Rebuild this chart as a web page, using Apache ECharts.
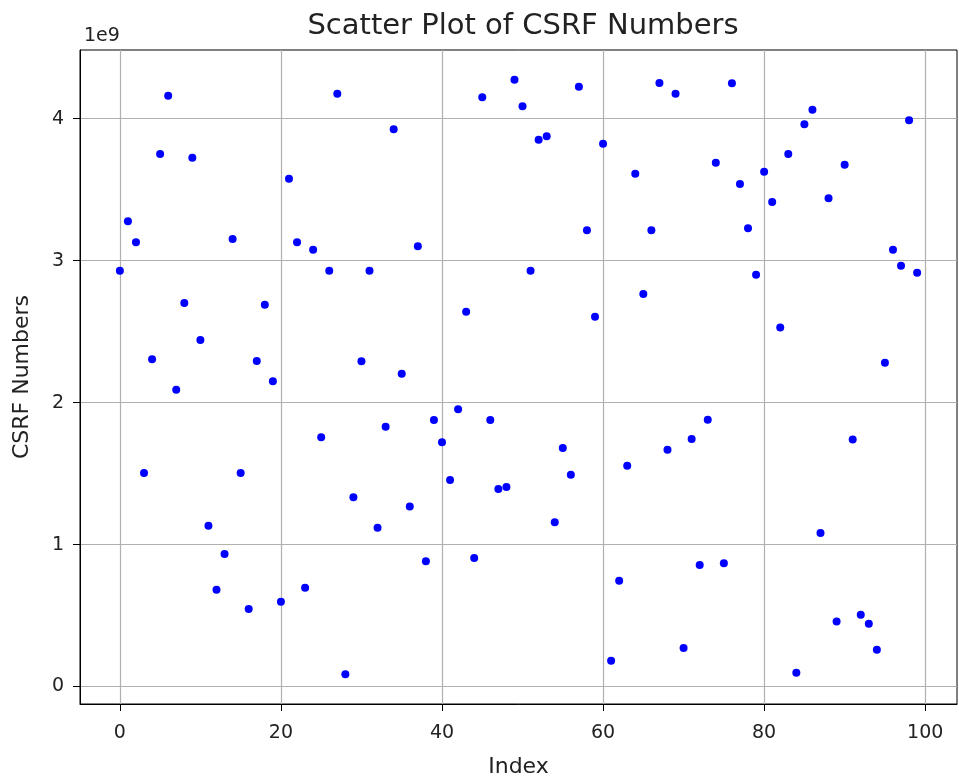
<!DOCTYPE html>
<html>
<head>
<meta charset="utf-8">
<script src="https://cdn.jsdelivr.net/npm/echarts@6/dist/echarts.min.js"></script>
<style>
html,body{margin:0;padding:0;background:#fff;}
#chart{width:959px;height:784px;}
</style>
</head>
<body>
<div id="chart"></div>
<script>
// CSRF numbers (in raw units)
const csrfValues = [
  2.929e9, 3.277e9, 3.129e9, 1.504e9, 2.305e9, 3.751e9, 4.162e9, 2.091e9, 2.702e9, 3.725e9,
  2.441e9, 1.133e9, 0.682e9, 0.933e9, 3.153e9, 1.504e9, 0.546e9, 2.293e9, 2.690e9, 2.150e9,
  0.598e9, 3.577e9, 3.129e9, 0.696e9, 3.077e9, 1.756e9, 2.929e9, 4.176e9, 0.086e9, 1.333e9,
  2.291e9, 2.929e9, 1.119e9, 1.830e9, 3.925e9, 2.203e9, 1.269e9, 3.101e9, 0.882e9, 1.877e9,
  1.720e9, 1.455e9, 1.953e9, 2.640e9, 0.905e9, 4.151e9, 1.877e9, 1.392e9, 1.405e9, 4.275e9,
  4.087e9, 2.929e9, 3.852e9, 3.876e9, 1.157e9, 1.680e9, 1.492e9, 4.226e9, 3.214e9, 2.605e9,
  3.824e9, 0.182e9, 0.745e9, 1.556e9, 3.613e9, 2.765e9, 3.214e9, 4.252e9, 1.668e9, 4.176e9,
  0.271e9, 1.744e9, 0.856e9, 1.880e9, 3.690e9, 0.868e9, 4.249e9, 3.540e9, 3.228e9, 2.901e9,
  3.627e9, 3.413e9, 2.530e9, 3.751e9, 0.097e9, 3.961e9, 4.063e9, 1.081e9, 3.439e9, 0.459e9,
  3.676e9, 1.741e9, 0.506e9, 0.442e9, 0.259e9, 2.281e9, 3.077e9, 2.964e9, 3.989e9, 2.915e9
];
const xTicks = [0, 20, 40, 60, 80, 100];
const yTicks = [0, 1e9, 2e9, 3e9, 4e9];
const titleText = 'Scatter Plot of CSRF Numbers';
const xLabel = 'Index';
const yLabel = 'CSRF Numbers';
const offsetText = '1e9';

const points = csrfValues.map((v, i) => [i, v]);
const FONT = 'DejaVu Sans';

const chart = echarts.init(document.getElementById('chart'), null, {renderer: 'canvas'});
chart.setOption({
  backgroundColor: '#ffffff',
  animation: false,
  title: [
    {text: titleText, left: 518, top: 7, textAlign: 'center',
     textStyle: {fontFamily: FONT, fontSize: 29, fontWeight: 'normal', color: '#222'}},
    {text: offsetText, left: 79, top: 22,
     textStyle: {fontFamily: FONT, fontSize: 19, fontWeight: 'normal', color: '#222'}}
  ],
  grid: {left: 80, right: 2, top: 50, bottom: 80, containLabel: false, outerBoundsMode: 'none',
         show: true, borderColor: '#000', borderWidth: 1, backgroundColor: '#fff'},
  xAxis: {
    type: 'value', min: -4.95, max: 103.95,
    name: xLabel, nameLocation: 'middle', nameGap: 52,
    nameTextStyle: {fontFamily: FONT, fontSize: 22, color: '#222'},
    axisLine: {onZero: false, lineStyle: {color: '#000', width: 1}},
    axisTick: {show: true, length: 7, customValues: xTicks, lineStyle: {color: '#000'}},
    axisLabel: {customValues: xTicks, margin: 20, fontFamily: FONT, fontSize: 19, color: '#222'},
    splitLine: {show: true, lineStyle: {color: '#b0b0b0', width: 1.2}}
  },
  yAxis: {
    type: 'value', min: -0.123e9, max: 4.484e9,
    name: yLabel, nameLocation: 'middle', nameGap: 47,
    nameTextStyle: {fontFamily: FONT, fontSize: 22, color: '#222'},
    axisLine: {onZero: false, lineStyle: {color: '#000', width: 1}},
    axisTick: {show: true, length: 7, customValues: yTicks, lineStyle: {color: '#000'}},
    axisLabel: {customValues: yTicks, margin: 16, fontFamily: FONT, fontSize: 19, color: '#222',
                formatter: v => String(Math.round(v / 1e9))},
    splitLine: {show: true, lineStyle: {color: '#b0b0b0', width: 1.2}}
  },
  series: [{
    type: 'scatter',
    data: points,
    symbolSize: 8,
    itemStyle: {color: '#0000ff', opacity: 1}
  }]
});
</script>
</body>
</html>
